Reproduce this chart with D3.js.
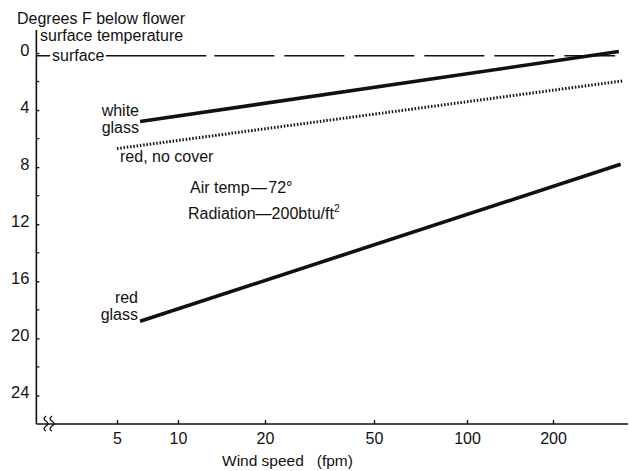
<!DOCTYPE html>
<html>
<head>
<meta charset="utf-8">
<script src="https://cdn.jsdelivr.net/npm/d3@7"></script>
<style>
	body { margin: 0; background: #fff; }
	text { font-family: "Liberation Sans", Arial, sans-serif; fill: #111; }
</style>
</head>
<body>
<div id="chart"></div>
<script>
	// wind speed ticks (fpm) and the flower temperature depression ticks (deg F)
	var xTicks = [5, 10, 20, 50, 100, 200];
	var yTicks = [0, 4, 8, 12, 16, 20, 24];
	var yMinor = [2, 6, 10, 14, 18, 22];

	var surfaceWind = [2, 330];
	var surfaceTemp = [0.2, 0.2];
	var whiteGlassWind = [6.5, 340];
	var whiteGlassTemp = [4.8, -0.1];
	var redNoCoverWind = [5, 352];
	var redNoCoverTemp = [6.7, 1.95];
	var redGlassWind = [6.5, 345];
	var redGlassTemp = [18.8, 7.8];

	var width = 630, height = 471;

	var svg = d3.select("#chart").append("svg")
		.attr("width", width)
		.attr("height", height);

	// the printed axis is not quite an even log scale, so a piecewise one
	var x = d3.scaleLog()
		.domain(xTicks)
		.range([117, 178, 265, 374, 467, 553]);
	var y = d3.scaleLinear()
		.domain([0, 26])
		.range([53, 424]);

	var x0 = x(2), xEnd = 628;

	// y axis
	svg.append("line")
		.attr("x1", x0).attr("x2", x0)
		.attr("y1", 30).attr("y2", y(26))
		.attr("stroke", "#111").attr("stroke-width", 1.6);

	var yAxis = svg.append("g")
		.attr("transform", "translate(" + x0 + ",0)")
		.call(d3.axisLeft(y).tickValues(yTicks).tickSizeInner(-3).tickSizeOuter(0).tickPadding(7));
	yAxis.select(".domain").remove();
	yAxis.selectAll("line").attr("stroke", "#111").attr("stroke-width", 1.4);
	yAxis.selectAll("text")
		.attr("font-size", 16.5)
		.attr("dy", "0.15em")
		.style("font-family", "'Liberation Sans', Arial, sans-serif");

	svg.selectAll(".minor").data(yMinor).enter().append("line")
		.attr("class", "minor")
		.attr("x1", x0).attr("x2", x0 + 3)
		.attr("y1", function(d) { return y(d); })
		.attr("y2", function(d) { return y(d); })
		.attr("stroke", "#111").attr("stroke-width", 1.2);

	// x axis
	svg.append("line")
		.attr("x1", x0).attr("x2", xEnd)
		.attr("y1", y(26)).attr("y2", y(26))
		.attr("stroke", "#111").attr("stroke-width", 1.6);

	var xAxis = svg.append("g")
		.attr("transform", "translate(0," + y(26) + ")")
		.call(d3.axisBottom(x).tickValues(xTicks).tickFormat(d3.format("d"))
			.tickSizeInner(-4).tickSizeOuter(0).tickPadding(9));
	xAxis.select(".domain").remove();
	xAxis.selectAll("line").attr("stroke", "#111").attr("stroke-width", 1.4);
	xAxis.selectAll("text")
		.attr("font-size", 16)
		.style("font-family", "'Liberation Sans', Arial, sans-serif");

	// axis break squiggles
	[46, 52].forEach(function(bx) {
		svg.append("path")
			.attr("d", "M" + bx + "," + (y(26) - 8) + " q-4,3 0,5 q4,3 0,5 q-4,3 0,5")
			.attr("fill", "none").attr("stroke", "#111").attr("stroke-width", 1.3);
	});

	// axis titles
	svg.append("text").attr("x", 17).attr("y", 24).attr("font-size", 16)
		.text("Degrees F below flower");
	svg.append("text").attr("x", 40).attr("y", 41).attr("font-size", 16)
		.text("surface temperature");
	svg.append("text").attr("x", 222).attr("y", 466).attr("font-size", 15.5)
		.attr("xml:space", "preserve")
		.text("Wind speed   (fpm)");

	var line = d3.line()
		.x(function(d) { return x(d[0]); })
		.y(function(d) { return y(d[1]); });

	// surface reference, dashed
	svg.append("path")
		.datum(d3.zip(surfaceWind, surfaceTemp))
		.attr("d", line)
		.attr("fill", "none").attr("stroke", "#111").attr("stroke-width", 1.5)
		.attr("stroke-dasharray", "170,8,60,10,60,10,60,10,60,10,60,10,60,10,60,10");
	svg.append("rect")
		.attr("x", 50).attr("y", y(0.2) - 9)
		.attr("width", 56).attr("height", 16)
		.attr("fill", "#fff");
	svg.append("text").attr("x", 52).attr("y", y(0.2) + 5).attr("font-size", 16)
		.text("surface");

	svg.append("path")
		.datum(d3.zip(whiteGlassWind, whiteGlassTemp))
		.attr("d", line)
		.attr("fill", "none").attr("stroke", "#111").attr("stroke-width", 3.6);

	svg.append("path")
		.datum(d3.zip(redNoCoverWind, redNoCoverTemp))
		.attr("d", line)
		.attr("fill", "none").attr("stroke", "#111").attr("stroke-width", 3)
		.attr("stroke-dasharray", "1.5,1.8");

	svg.append("path")
		.datum(d3.zip(redGlassWind, redGlassTemp))
		.attr("d", line)
		.attr("fill", "none").attr("stroke", "#111").attr("stroke-width", 3.6);

	// curve labels
	function label(lines, px, py, anchor) {
		var t = svg.append("text")
			.attr("x", px).attr("y", py)
			.attr("font-size", 16)
			.attr("text-anchor", anchor);
		lines.forEach(function(s, i) {
			t.append("tspan").attr("x", px).attr("dy", i ? 17 : 0).text(s);
		});
	}
	label(["white", "glass"], 139, 116, "end");
	label(["red", "glass"], 138, 303, "end");
	label(["red, no cover"], 120, 162, "start");
	label(["Air temp\u200a\u2014\u200a72\u00b0"], 190, 193, "start");

	var rad = svg.append("text").attr("x", 188).attr("y", 219).attr("font-size", 16);
	rad.append("tspan").text("Radiation\u2014200btu/ft");
	rad.append("tspan").attr("font-size", 10.5).attr("dy", -7).text("2");
</script>
</body>
</html>
